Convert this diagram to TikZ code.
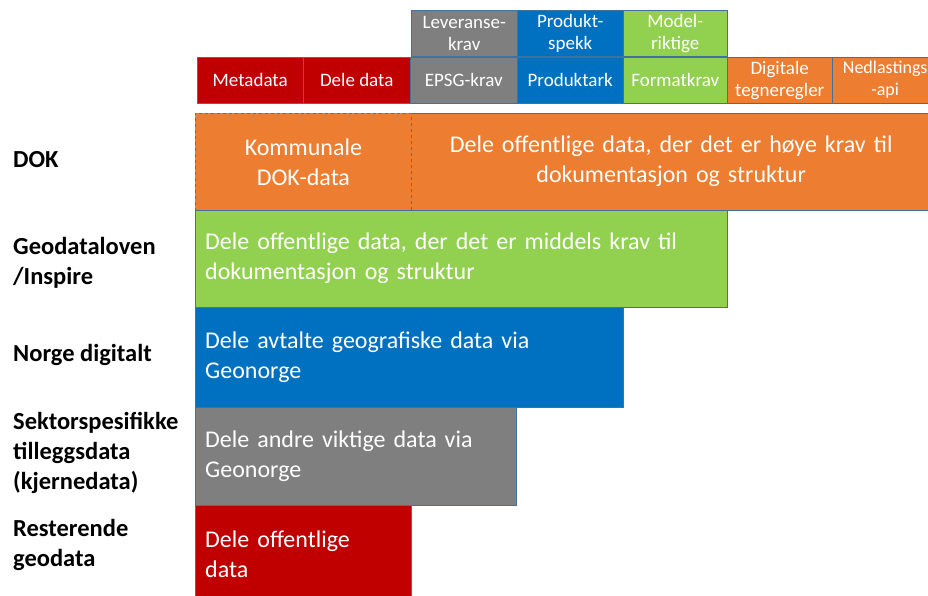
\documentclass[tikz,border=0pt]{standalone}
\usepackage{fontspec}
\setmainfont{Carlito}
\definecolor{dokorange}{HTML}{ED7D31}
\definecolor{geogreen}{HTML}{92D050}
\definecolor{norgeblue}{HTML}{0070C0}
\definecolor{sektorgrey}{HTML}{7F7F7F}
\definecolor{restred}{HTML}{C00000}
\definecolor{edgeblue}{HTML}{41719C}
\definecolor{dashgrey}{HTML}{5E6E7E}
\tikzset{
  cell/.style={draw=edgeblue, text=white, align=center, anchor=north west,
    minimum width=106pt, minimum height=46pt, inner sep=0pt,
    font=\fontsize{19}{22}\selectfont},
  band/.style={draw=edgeblue, text=white, align=left, anchor=north west,
    inner xsep=10pt, inner ysep=0pt, font=\fontsize{24}{30}\selectfont},
  rowlabel/.style={anchor=west, align=left, inner sep=0pt,
    font=\fontsize{24.5}{30}\selectfont\bfseries}
}
\begin{document}
\begin{tikzpicture}[x=1pt, y=-1pt]
  \useasboundingbox[fill=white] (0,0) rectangle (928,596);

  % Krav boxes, upper row
  \node[cell, fill=sektorgrey] (leveranse) at (411,10) {Leveranse-\\krav};
  \node[cell, fill=norgeblue] (produktspekk) at (517,10) {Produkt-\\spekk};
  \node[cell, fill=geogreen, minimum width=104pt] (modell) at (623,10) {Model-\\riktige};

  % Krav boxes, lower row
  \node[cell, fill=restred] (metadata) at (197,57) {Metadata};
  \node[cell, fill=restred, minimum width=107pt] (deledata) at (303,57) {Dele data};
  \node[cell, fill=sektorgrey, minimum width=107pt] (epsg) at (410,57) {EPSG-krav};
  \node[cell, fill=norgeblue] (produktark) at (517,57) {Produktark};
  \node[cell, fill=geogreen, minimum width=104pt] (format) at (623,57) {Formatkrav};
  \node[cell, fill=dokorange, minimum width=105pt] (tegneregler) at (727,57) {Digitale\\tegneregler};
  \node[cell, fill=dokorange, font=\fontsize{18}{22}\selectfont] (nedlasting) at (832,57) {Nedlastings\\-api};

  % Sharing levels
  \node[band, fill=dokorange, draw=none, align=center, text width=500pt,
    minimum height=97pt] (dok) at (411,113)
    {Dele offentlige data, der det er høye krav til\\dokumentasjon og struktur};
  \draw[edgeblue] (dok.north west) -- (dok.north east) -- (dok.south east) -- (dok.south west);
  \node[band, fill=dokorange, draw=dashgrey, dashed, line width=0.8pt, align=center,
    text width=196pt, minimum height=97pt] (kommunal) at (195,113) {Kommunale\\DOK-data};
  \node[band, fill=geogreen, text width=512pt, minimum height=97pt] (geodata) at (195,210)
    {Dele offentlige data, der det er middels krav til\\dokumentasjon og struktur};
  \node[band, fill=norgeblue, text width=408pt, minimum height=100pt] (norge) at (195,307)
    {Dele avtalte geografiske data via\\Geonorge};
  \node[band, fill=sektorgrey, text width=301pt, minimum height=98pt] (sektor) at (195,407)
    {Dele andre viktige data via\\Geonorge};
  \node[band, fill=restred, text width=196pt, minimum height=98pt] (rest) at (195,505)
    {Dele offentlige\\data};

  % Row labels
  \node[rowlabel] (lbldok) at (13,160) {DOK};
  \node[rowlabel] (lblgeo) at (13,263) {Geodataloven\\/Inspire};
  \node[rowlabel] (lblnorge) at (13,355) {Norge digitalt};
  \node[rowlabel] (lblsektor) at (13,453) {Sektorspesifikke\\tilleggsdata\\(kjernedata)};
  \node[rowlabel] (lblrest) at (13,545) {Resterende\\geodata};
\end{tikzpicture}
\end{document}
